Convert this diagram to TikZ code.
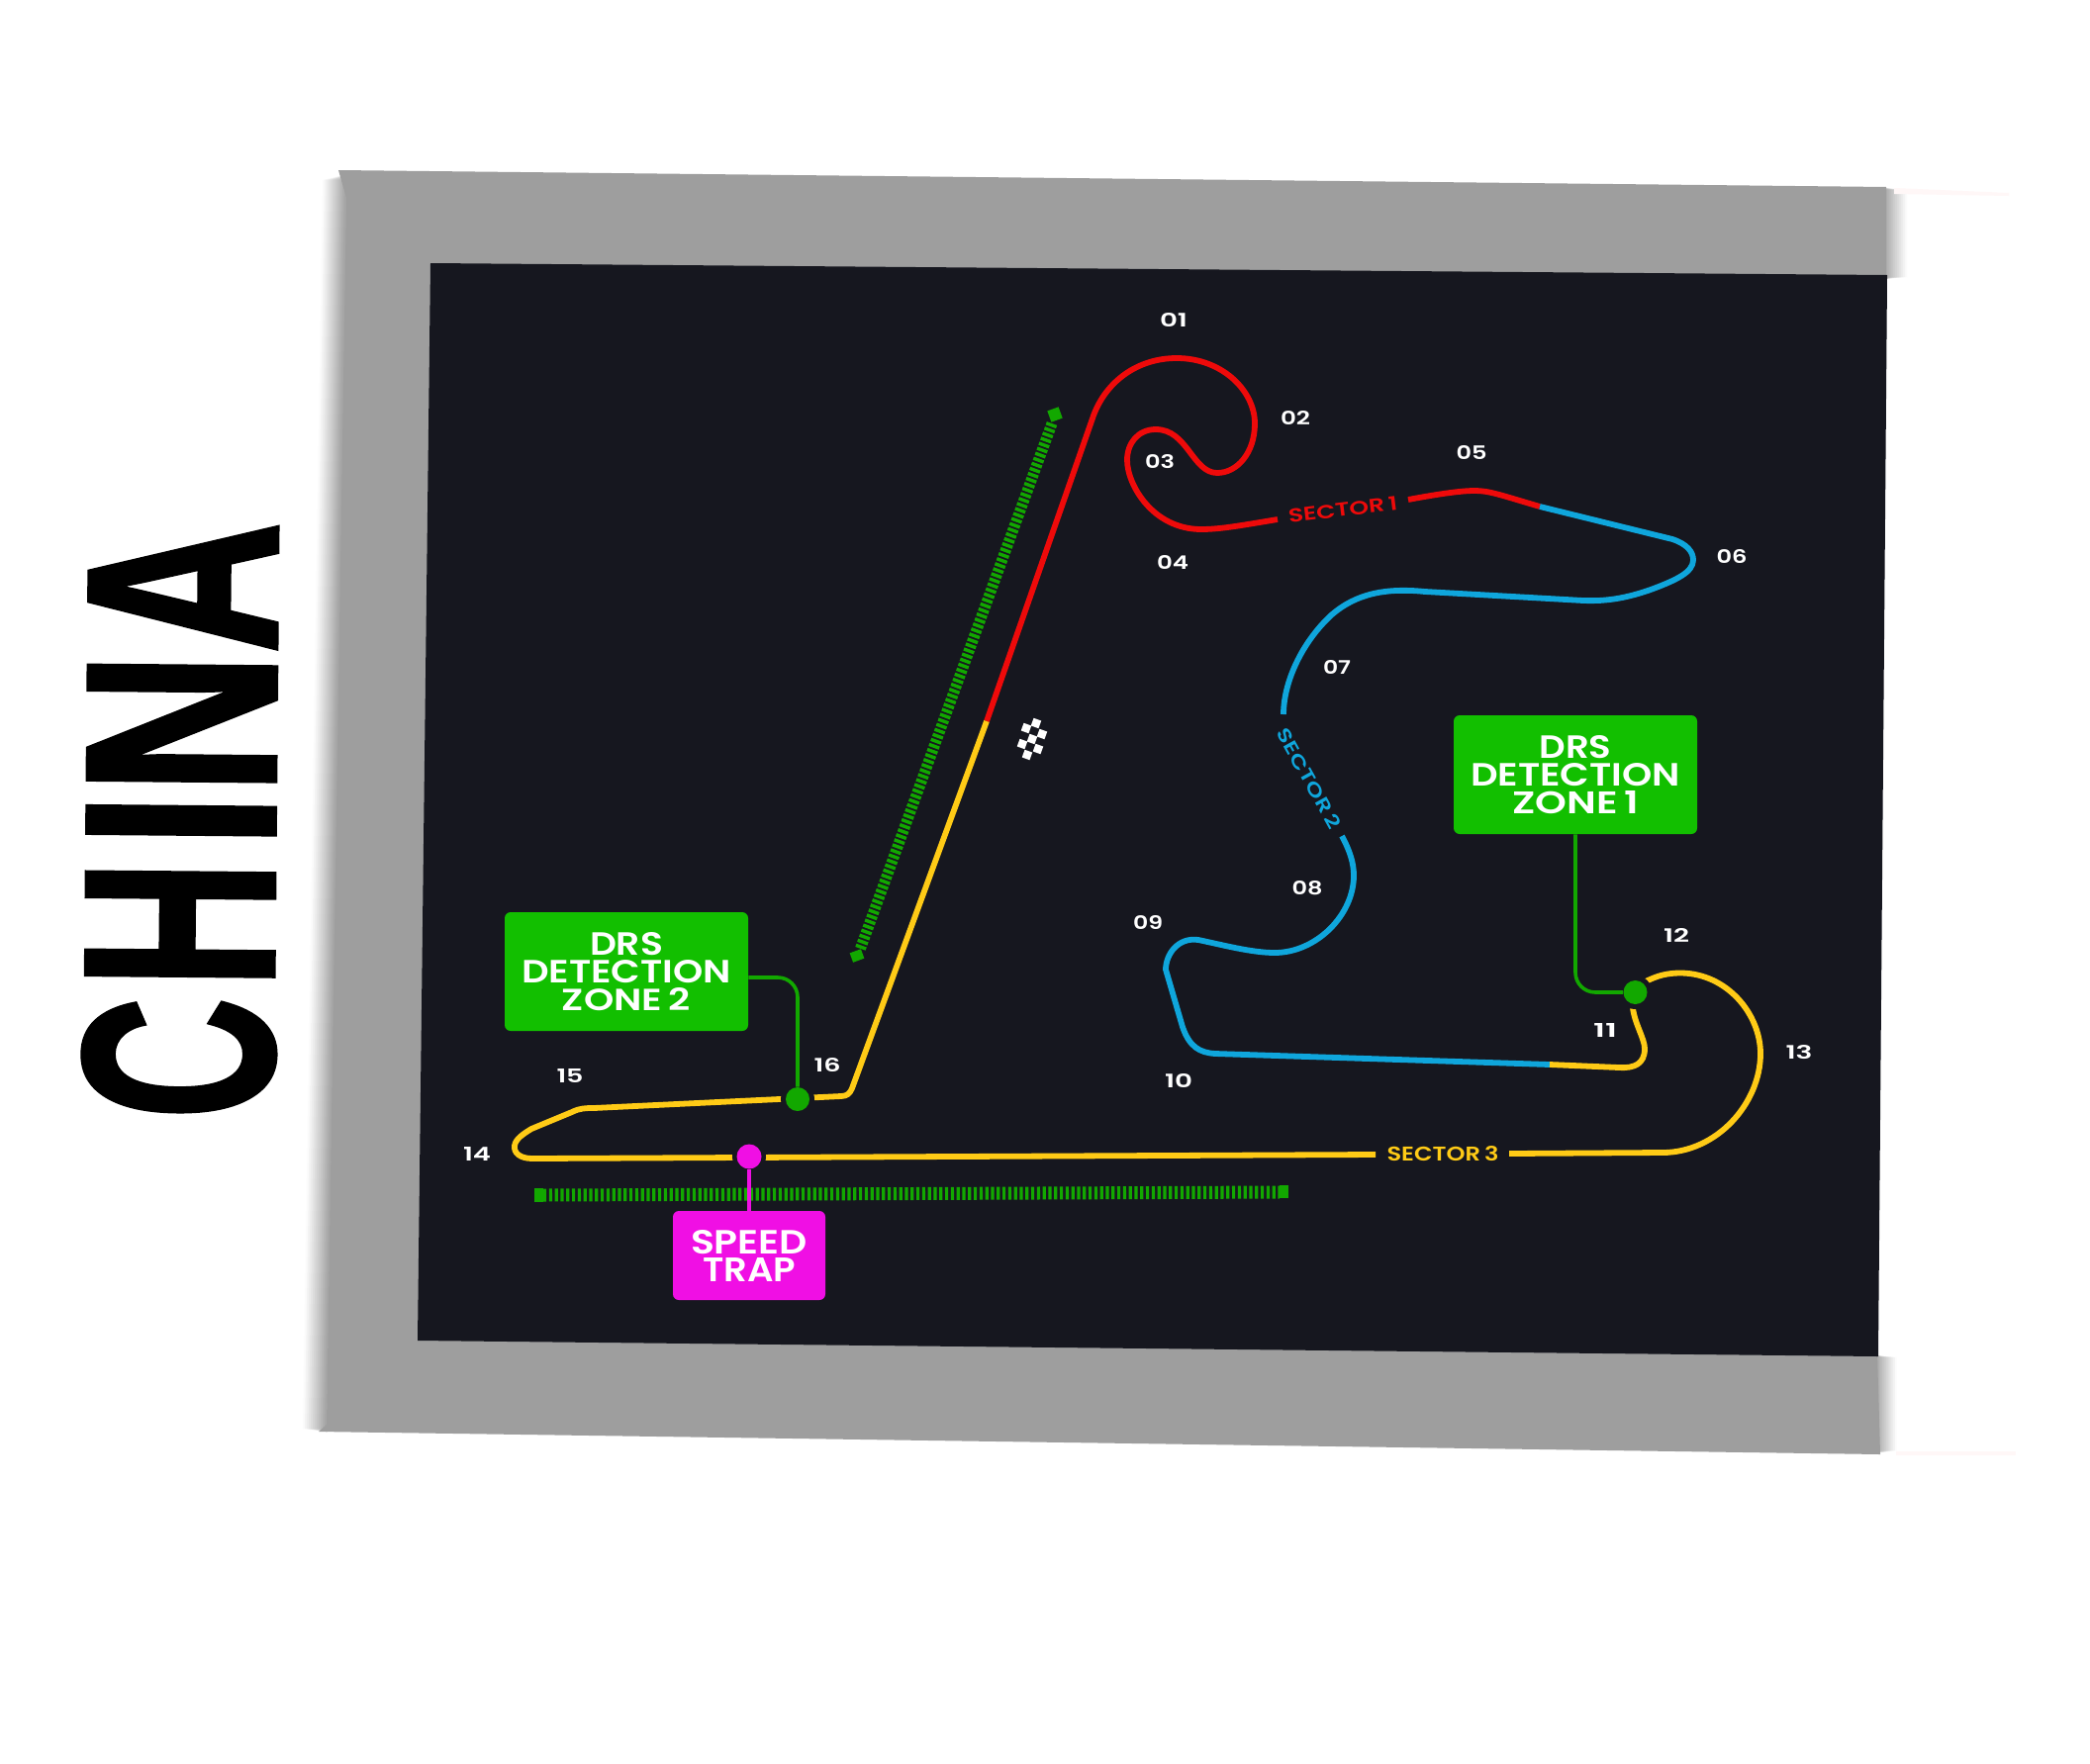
\documentclass[tikz,border=0pt]{standalone}
\usepackage{fontspec}
\usepackage{graphicx}
\setmainfont{Poppins}
\newfontfamily\lblfont{Poppins}[UprightFont={* SemiBold}]
\newfontfamily\chinafont{Liberation Sans}[UprightFont={* Bold},FakeBold=1.6]
\newdimen\pxu \pxu=0.5pt
\newcommand\fitt[3]{\resizebox{#1\pxu}{#2\pxu}{\lblfont #3}}
\definecolor{gr}{HTML}{9E9E9E}
\definecolor{bgd}{HTML}{16171F}
\definecolor{redt}{HTML}{EE0A0A}
\definecolor{blut}{HTML}{0FA6DC}
\definecolor{yelt}{HTML}{FFCB16}
\definecolor{grn}{HTML}{12BF00}
\definecolor{grnb}{HTML}{12A800}
\definecolor{mag}{HTML}{F00FE4}
\tikzset{
  trk/.style={line width=2.9pt,line join=round},
  lbl/.style={text=white,inner sep=0pt},
  boxd/.style={fill=grn,rounded corners=3pt,minimum width=123pt,minimum height=60pt,inner sep=0pt,text=white,align=center,font={\baselineskip=13.9pt\lineskiplimit=-100pt\relax}},
  boxm/.style={fill=mag,rounded corners=3pt,minimum width=77pt,minimum height=45pt,inner sep=0pt,text=white,align=center,font={\baselineskip=14pt\lineskiplimit=-100pt\relax}},
  dotg/.style={circle,fill=grnb,minimum size=12pt,inner sep=0pt},
  dotm/.style={circle,fill=mag,minimum size=12.5pt,inner sep=0pt},
  conn/.style={line width=1.8pt,rounded corners=10pt},
  barz/.style={line width=6.5pt,draw=grnb,dash pattern=on 1.6pt off 1.3pt},
  bart/.style={line width=5.5pt,draw=grnb,dash pattern=on 1.7pt off 1pt},
  flagq/.style={fill=white,rotate=-20,minimum size=4.1pt,inner sep=0pt},
}
\begin{document}
\begin{tikzpicture}[x=0.5pt,y=-0.5pt]
\useasboundingbox (0,0) rectangle (2112,1782);
\fill[white] (0,0) rectangle (2112,1782);
% frame blur
\foreach \i in {12,...,1}{
  \pgfmathsetmacro\p{100-8*\i}
  \fill[gr!\p!white] ({350-2*\i},182) -- (352,176) -- (330,1447) -- ({330-2*\i},1444) -- cycle;
  \fill[gr!\p!white] (1903,190) -- ({1903+2*\i},192) -- ({1903+2*\i},280) -- (1903,282) -- cycle;
  \fill[gr!\p!white] (1895,1370) -- ({1895+1.8*\i},1372) -- ({1895+1.8*\i},1466) -- (1895,1469) -- cycle;
}
\fill[gr] (342,172) -- (1906,189) -- (1906,282) -- (1897,1368) -- (1900,1470) -- (322,1447) -- (330,1440) -- (350,200) -- cycle;
\fill[bgd] (435,266) -- (1907,278) -- (1898,1371) -- (422,1355) -- cycle;
\fill[white!97!red] (1914,190) -- (2030,195) -- (2030,198) -- (1914,196) -- cycle;
\fill[white!97!red] (1916,1467) -- (2037,1467) -- (2037,1471) -- (1916,1471) -- cycle;
% zones
\draw[barz] (549,1208) -- (1293,1205);
\fill[grnb] (540,1201) rectangle (549,1215);
\fill[grnb] (1293,1198) rectangle (1302,1211);
\draw[bart] (1063,428) -- (869,960);
\fill[grnb,rotate around={20:(1066,419)}] (1060,413) rectangle (1072,425);
\fill[grnb,rotate around={20:(866,966)}] (860,961) rectangle (872,971);
% track
\draw[trk,redt] (997,729) -- (1105,420) .. controls (1118,385) and (1150,362) .. (1189,362) .. controls (1235,362) and (1268,395) .. (1268,428) .. controls (1268,458) and (1250,478) .. (1230,478) .. controls (1205,478) and (1200,434) .. (1168,434) .. controls (1150,434) and (1139,448) .. (1139,465) .. controls (1139,490) and (1165,535) .. (1214,535) .. controls (1235,535) and (1260,530) .. (1291,525);
\draw[trk,redt] (1423,505) .. controls (1450,500) and (1475,496) .. (1490,496) .. controls (1505,496) and (1515,500) .. (1556,512);
\draw[trk,blut] (1556,512) -- (1690,545) .. controls (1705,550) and (1711,558) .. (1711,566) .. controls (1711,578) and (1695,586) .. (1668,596) .. controls (1645,604) and (1625,608) .. (1600,607) -- (1440,598) .. controls (1400,594) and (1370,600) .. (1345,622) .. controls (1315,650) and (1297,690) .. (1297,722);
\draw[trk,blut] (1356,845) .. controls (1364,860) and (1368,872) .. (1368,885) .. controls (1368,925) and (1330,963) .. (1288,963) .. controls (1265,963) and (1235,955) .. (1211,950) .. controls (1190,947) and (1178,965) .. (1178,980) -- (1195,1038) .. controls (1202,1058) and (1212,1064) .. (1228,1065) -- (1566,1076);
\draw[trk,yelt] (1566,1076) -- (1636,1079) .. controls (1652,1080) and (1662,1075) .. (1662,1060) .. controls (1662,1050) and (1652,1035) .. (1650,1019);
\draw[trk,yelt] (1663,992) .. controls (1675,986) and (1685,983.5) .. (1698,983.5) .. controls (1745,983.5) and (1779,1025) .. (1779,1065) .. controls (1779,1115) and (1735,1165) .. (1680,1165) -- (1525,1166);
\draw[trk,yelt] (1390,1167) -- (538,1171) .. controls (525,1171) and (519,1165) .. (520,1158) .. controls (521,1151) and (529,1146) .. (537,1141) -- (578,1124) .. controls (586,1120) and (592,1120) .. (600,1120) -- (850,1108) .. controls (856,1108) and (859,1105) .. (861,1100) -- (997,729);
% section titles
\node[lbl,rotate=7] (s1) at (1357,515) {\textcolor{redt}{\fitt{111}{14}{SECTOR\,1}}};
\node[lbl,rotate=-61] (s2) at (1323,787) {\textcolor{blut}{\fitt{113}{14}{SECTOR\,2}}};
\node[lbl] (s3) at (1458,1166) {\textcolor{yelt}{\fitt{113}{15}{SECTOR\,3}}};
% turn numbers
\node[lbl] (t01) at (1186,323) {\fitt{28}{14}{01}};
\node[lbl] (t02) at (1309,422) {\fitt{30}{14}{02}};
\node[lbl] (t03) at (1172,467) {\fitt{30}{14}{03}};
\node[lbl] (t04) at (1185,568) {\fitt{32}{14}{04}};
\node[lbl] (t05) at (1487,457) {\fitt{31}{14}{05}};
\node[lbl] (t06) at (1750,563) {\fitt{31}{14}{06}};
\node[lbl] (t07) at (1351,674) {\fitt{28}{14}{07}};
\node[lbl] (t08) at (1321,898) {\fitt{31}{14}{08}};
\node[lbl] (t09) at (1160,932) {\fitt{30}{14}{09}};
\node[lbl] (t10) at (1191,1092) {\fitt{28}{14}{10}};
\node[lbl] (t11) at (1622,1041) {\fitt{24}{14}{11}};
\node[lbl] (t12) at (1694,945) {\fitt{26}{14}{12}};
\node[lbl] (t13) at (1818,1064) {\fitt{27}{14}{13}};
\node[lbl] (t14) at (482,1166) {\fitt{28}{14}{14}};
\node[lbl] (t15) at (576,1087) {\fitt{27}{14}{15}};
\node[lbl] (t16) at (836,1077) {\fitt{27}{14}{16}};
% boxes
\coordinate (pd1) at (1652.5,1003);
\coordinate (pd2) at (806,1111);
\coordinate (pdm) at (757,1169);
\fill[bgd] (pd1) circle (8.5pt);
\fill[bgd] (pd2) circle (8.5pt);
\fill[bgd] (pdm) circle (8.5pt);
\node[boxd] (drs1) at (1592,783) {\fitt{73}{23}{DRS}\\\fitt{212}{23}{DETECTION}\\\fitt{128}{23}{ZONE\,1}};
\node[boxd] (drs2) at (633,982) {\fitt{74}{23}{DRS}\\\fitt{212}{23}{DETECTION}\\\fitt{130}{23}{ZONE\,2}};
\node[boxm] (trap) at (757,1269) {\fitt{118}{24}{SPEED}\\\fitt{94}{24}{TRAP}};
\node[dotg] (dot1) at (pd1) {};
\node[dotg] (dot2) at (pd2) {};
\node[dotm] (dotp) at (pdm) {};
\draw[conn,grnb] (drs1.south) |- (dot1.west);
\draw[conn,grnb] ([yshift=-3pt]drs2.east) -| (dot2.north);
\draw[line width=2pt,mag] (trap.north) -- (dotp.south);
% chequered flag
\foreach \fx/\fy in {1047/731,1037/736,1053/742,1043/747,1033/752,1049/757,1038/763}{
  \node[flagq] at (\fx,\fy) {};
}
% title
\node[inner sep=0pt,rotate=89.5] (china) at (183,829) {\resizebox{604\pxu}{192\pxu}{\chinafont \scalebox{.88}[1]{C}\kern.5pt\scalebox{.92}[1]{H}\kern.7pt I\scalebox{1.02}[1]{N}\scalebox{.95}[1]{A}}};
\end{tikzpicture}
\end{document}
